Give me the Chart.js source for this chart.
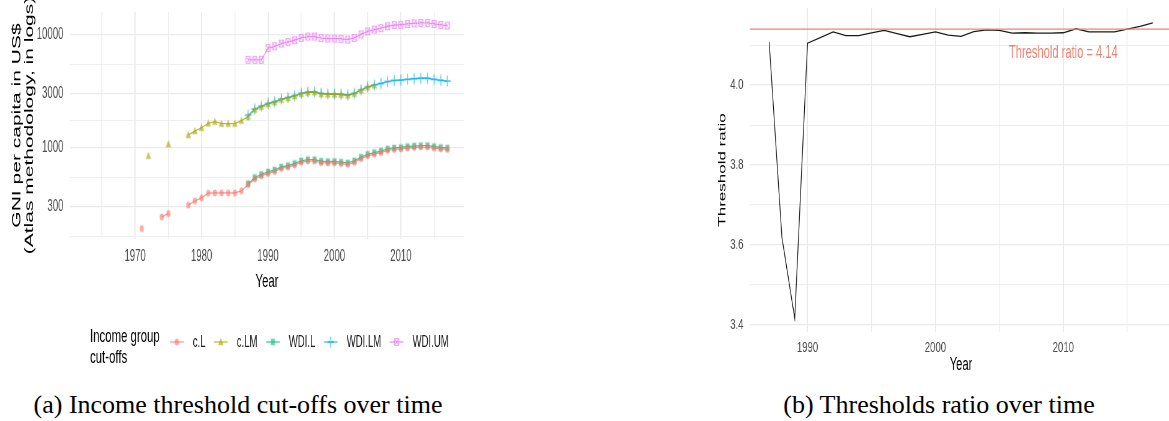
<!DOCTYPE html>
<html>
<head>
<meta charset="utf-8">
<script src="https://cdn.jsdelivr.net/npm/chart.js@4.4.1/dist/chart.umd.min.js"></script>
<style>
  html, body { margin: 0; padding: 0; background: #fff; }
  body { width: 1169px; height: 421px; overflow: hidden; position: relative; }
  .panel { position: absolute; top: 0; height: 380px; transform-origin: 0 0; }
  #panelA { left: 0; width: 800px; transform: scaleX(0.6); }
  #panelB { left: 700px; width: 762px; transform: scaleX(0.62); }
  .caption { position: absolute; top: 390px; height: 30px; line-height: 30px; text-align: center;
             font-family: "Liberation Serif", "DejaVu Serif", serif; font-size: 26px; color: #000;
             white-space: nowrap; }
  #capA { left: 0; width: 476px; }
  #capB { left: 693px; width: 492px; }
</style>
</head>
<body>
<div class="panel" id="panelA"><canvas id="thresholds"></canvas></div>
<div class="panel" id="panelB"><canvas id="ratio"></canvas></div>
<div class="caption" id="capA">(a) Income threshold cut-offs over time</div>
<div class="caption" id="capB">(b) Thresholds ratio over time</div>
<script>
// ---------- data: income-group cut-offs (GNI per capita, Atlas method, US$) ----------
const years = [1971,1972,1973,1974,1975,1976,1977,1978,1979,1980,1981,1982,1983,1984,1985,1986,
  1987,1988,1989,1990,1991,1992,1993,1994,1995,1996,1997,1998,1999,2000,2001,2002,2003,2004,
  2005,2006,2007,2008,2009,2010,2011,2012,2013,2014,2015,2016,2017];

const cL = [192,null,null,244,261,null,null,310,339,360,396,398,398,398,398,415,
  472,528,563,592,616,655,675,703,742,762,762,737,733,733,723,713,742,800,
  849,878,907,946,965,975,994,1004,1014,1014,994,975,965];

const cLM = [null,849,null,null,1078,null,null,1297,1406,1503,1644,1701,1633,1633,1633,1737,
  1884,2180,2310,2440,2530,2670,2760,2870,3000,3090,3100,3000,2970,2970,2950,2910,3010,3230,
  3440,3570,null,null,null,null,null,null,null,null,null,null,null];

const wdiL = [null,null,null,null,null,null,null,null,null,null,null,null,null,null,null,null,
  480,545,580,610,635,675,695,725,765,785,785,760,755,755,745,735,765,825,
  875,905,935,975,995,1005,1025,1035,1045,1045,1025,1005,995];

const wdiLM = [null,null,null,null,null,null,null,null,null,null,null,null,null,null,null,null,
  1940,2200,2335,2465,2555,2695,2785,2895,3035,3115,3125,3030,2995,2995,2975,2935,3035,3255,
  3465,3595,3705,3855,3945,3975,4035,4085,4125,4125,4035,3955,3895];

const wdiUM = [null,null,null,null,null,null,null,null,null,null,null,null,null,null,null,null,
  6000,6000,6000,7620,7910,8355,8625,8955,9385,9645,9655,9360,9265,9265,9205,9075,9385,10065,
  10725,11115,11455,11905,12195,12275,12475,12615,12745,12735,12475,12235,12055];

const seriesNames = ['c.L', 'c.LM', 'WDI.L', 'WDI.LM', 'WDI.UM'];
const gniTicks = [300, 1000, 3000, 10000];
const gniYearTicks = [1970, 1980, 1990, 2000, 2010];
const gniTitle = ['GNI per capita in US$', '(Atlas methodology, in logs)'];
const legendTitle = ['Income group', 'cut-offs'];

// ---------- data: ratio between thresholds ----------
const ratioYears = [1987,1988,1989,1990,1991,1992,1993,1994,1995,1996,1997,1998,1999,2000,2001,
  2002,2003,2004,2005,2006,2007,2008,2009,2010,2011,2012,2013,2014,2015,2016,2017];
const ratio = [4.108,3.618,3.416,4.105,4.119,4.133,4.124,4.124,4.131,4.137,4.129,4.121,4.127,
  4.133,4.125,4.122,4.134,4.138,4.137,4.130,4.131,4.130,4.130,4.131,4.141,4.133,4.133,4.133,
  4.140,4.147,4.156];
const threshold = 4.14;
const ratioTicks = [3.4, 3.6, 3.8, 4.0];
const ratioYearTicks = [1990, 2000, 2010];

// ---------- shared look ----------
const SANS = '"Liberation Sans", Arial, Helvetica, sans-serif';
Chart.defaults.font.family = SANS;
Chart.defaults.animation = false;
const GRID = '#ebebeb';
const TICK_COLOR = '#4d4d4d';
const palette = ['#F8766D', '#A3A500', '#00BF7D', '#00B0F6', '#E76BF3'];
const shapes = ['circle', 'triangle', 'square', 'plus', 'squareCross'];
const thresholdColor = '#F2806E';

function rgba(hex, a) {
  const n = parseInt(hex.slice(1), 16);
  return `rgba(${n >> 16},${(n >> 8) & 255},${n & 255},${a})`;
}

// small bitmap markers used as point styles (and in the legend keys)
function marker(shape, color) {
  const c = document.createElement('canvas');
  c.width = 14; c.height = 14;
  const g = c.getContext('2d');
  const m = 7;
  g.fillStyle = rgba(color, 0.6);
  g.strokeStyle = rgba(color, 0.6);
  g.beginPath();
  if (shape === 'circle') {
    g.arc(m, m, 3.6, 0, Math.PI * 2); g.fill();
  } else if (shape === 'triangle') {
    g.moveTo(m, m - 4.2); g.lineTo(m + 4.6, m + 3.2); g.lineTo(m - 4.6, m + 3.2); g.closePath(); g.fill();
  } else if (shape === 'square') {
    g.rect(m - 3.4, m - 3.3, 6.8, 6.6); g.fill();
  } else if (shape === 'plus') {
    g.lineWidth = 1.8;
    g.moveTo(m, m - 5.5); g.lineTo(m, m + 5.5); g.moveTo(m - 5.5, m); g.lineTo(m + 5.5, m); g.stroke();
  } else {
    g.lineWidth = 1.2;
    g.rect(m - 3.6, m - 3.5, 7.2, 7);
    g.moveTo(m - 3.6, m - 3.5); g.lineTo(m + 3.6, m + 3.5);
    g.moveTo(m + 3.6, m - 3.5); g.lineTo(m - 3.6, m + 3.5); g.stroke();
  }
  return c;
}

// ggplot-style minor breaks: halfway between majors, one step past each end
function minorBetween(ticks, log) {
  const f = log ? Math.log10 : (v => v);
  const inv = log ? (v => Math.pow(10, v)) : (v => v);
  const t = ticks.map(f);
  const out = [];
  out.push(inv(t[0] - (t[1] - t[0]) / 2));
  for (let i = 0; i < t.length - 1; i++) out.push(inv((t[i] + t[i + 1]) / 2));
  out.push(inv(t[t.length - 1] + (t[t.length - 1] - t[t.length - 2]) / 2));
  return out;
}
const isIn = (list, v) => list.some(t => Math.abs(t - v) < 1e-6 * Math.max(1, Math.abs(t)));

function gridFor(majors, majorW, minorW) {
  return {
    color: GRID,
    drawTicks: false,
    lineWidth: c => (c.tick && isIn(majors, c.tick.value)) ? majorW : minorW
  };
}

function ticksWithMinors(scale, majors, log) {
  const all = majors.concat(minorBetween(majors, log))
    .filter(v => v >= scale.min && v <= scale.max)
    .sort((a, b) => a - b);
  scale.ticks = all.map(v => ({ value: v }));
}

// fixed axis boxes, and no extra room reserved for overhanging end labels
const fixWidth = w => s => { s.width = w; s.paddingTop = 0; s.paddingBottom = 0; };
const fixHeight = h => s => { s.height = h; s.paddingLeft = 0; s.paddingRight = 0; };

// ---------- panel (a): cut-offs over time ----------
const seriesValues = [cL, cLM, wdiL, wdiLM, wdiUM];
const datasetsA = seriesNames.map((name, i) => ({
  label: name,
  data: seriesValues[i],
  borderColor: rgba(palette[i], 0.75),
  borderWidth: 1.3,
  pointStyle: marker(shapes[i], palette[i]),
  pointRadius: 4,
  pointHoverRadius: 4,
  spanGaps: false,
  tension: 0
}));

const yTitlePlugin = {
  id: 'gniTitle',
  afterDraw(chart) {
    const { ctx, chartArea: a } = chart;
    ctx.save();
    ctx.translate(0, (a.top + a.bottom) / 2);
    ctx.rotate(-Math.PI / 2);
    ctx.font = '21px ' + SANS;
    ctx.fillStyle = '#000';
    ctx.textAlign = 'center';
    ctx.textBaseline = 'middle';
    ctx.fillText(gniTitle[0], 0, 28);
    ctx.fillText(gniTitle[1], 0, 49);
    ctx.restore();
  }
};

const legendPlugin = {
  id: 'cutoffLegend',
  afterDraw(chart) {
    const ctx = chart.ctx;
    ctx.save();
    ctx.textBaseline = 'middle';
    ctx.textAlign = 'left';
    ctx.fillStyle = '#000';
    ctx.font = '19px ' + SANS;
    const x0 = 150;
    ctx.fillText(legendTitle[0], x0, 337);
    ctx.fillText(legendTitle[1], x0, 358);
    let x = x0 + ctx.measureText(legendTitle[0]).width + 17;
    const y = 342;
    const keyW = 23;
    ctx.font = '16px ' + SANS;
    chart.data.datasets.forEach(ds => {
      ctx.strokeStyle = ds.borderColor;
      ctx.lineWidth = 1.3;
      ctx.beginPath(); ctx.moveTo(x, y); ctx.lineTo(x + keyW, y); ctx.stroke();
      const img = ds.pointStyle;
      ctx.drawImage(img, x + keyW / 2 - img.width / 2, y - img.height / 2);
      ctx.fillStyle = '#1a1a1a';
      ctx.fillText(ds.label, x + keyW + 15, y + 1);
      x += keyW + 15 + ctx.measureText(ds.label).width + 14;
    });
    ctx.restore();
  }
};

new Chart(document.getElementById('thresholds'), {
  type: 'line',
  data: { labels: years, datasets: datasetsA },
  options: {
    responsive: true,
    maintainAspectRatio: false,
    layout: { padding: { top: 12, right: 26.7, bottom: 81, left: 0 } },
    plugins: { legend: { display: false }, tooltip: { enabled: false } },
    scales: {
      x: {
        type: 'linear',
        min: 1960.2,
        max: 2019.5,
        afterBuildTicks: s => ticksWithMinors(s, gniYearTicks, false),
        afterFit: fixHeight(60),
        grid: gridFor(gniYearTicks, 2, 1.4),
        border: { display: false },
        ticks: {
          autoSkip: false, maxRotation: 0, padding: 8,
          color: TICK_COLOR, font: { size: 16 },
          callback: v => isIn(gniYearTicks, v) ? String(v) : ''
        },
        title: { display: true, text: 'Year', color: '#000', font: { size: 19 }, padding: { top: 0, bottom: 6 } }
      },
      y: {
        type: 'logarithmic',
        min: 155.5,
        max: 15920,
        afterBuildTicks: s => ticksWithMinors(s, gniTicks, true),
        afterFit: fixWidth(116.7),
        grid: gridFor(gniTicks, 1.3, 0.8),
        border: { display: false },
        ticks: {
          autoSkip: false, padding: 11,
          color: TICK_COLOR, font: { size: 16 },
          callback: v => isIn(gniTicks, v) ? String(v) : ''
        }
      }
    }
  },
  plugins: [yTitlePlugin, legendPlugin]
});

// ---------- panel (b): thresholds ratio ----------
const thresholdPlugin = {
  id: 'thresholdLine',
  afterDatasetsDraw(chart) {
    const { ctx, chartArea: a, scales: { x, y } } = chart;
    const yy = y.getPixelForValue(threshold);
    ctx.save();
    ctx.strokeStyle = thresholdColor;
    ctx.lineWidth = 1.3;
    ctx.beginPath(); ctx.moveTo(a.left, yy); ctx.lineTo(a.right, yy); ctx.stroke();
    ctx.font = '18px ' + SANS;
    ctx.fillStyle = thresholdColor;
    ctx.textAlign = 'center';
    ctx.textBaseline = 'middle';
    ctx.fillText('Threshold ratio = ' + threshold.toFixed(2), x.getPixelForValue(2010), y.getPixelForValue(4.08));
    ctx.restore();
  }
};

new Chart(document.getElementById('ratio'), {
  type: 'line',
  data: {
    labels: ratioYears,
    datasets: [{
      label: 'Threshold ratio',
      data: ratio,
      borderColor: '#1a1a1a',
      borderWidth: 1.3,
      pointRadius: 0,
      tension: 0
    }]
  },
  options: {
    responsive: true,
    maintainAspectRatio: false,
    layout: { padding: { top: 8, right: 0.7, bottom: 2, left: 0 } },
    plugins: { legend: { display: false }, tooltip: { enabled: false } },
    scales: {
      x: {
        type: 'linear',
        min: 1985.5,
        max: 2018.5,
        afterBuildTicks: s => ticksWithMinors(s, ratioYearTicks, false),
        afterFit: fixHeight(46),
        grid: gridFor(ratioYearTicks, 2, 1.4),
        border: { display: false },
        ticks: {
          autoSkip: false, maxRotation: 0, padding: 6,
          color: TICK_COLOR, font: { size: 15.5 },
          callback: v => isIn(ratioYearTicks, v) ? String(v) : ''
        },
        title: { display: true, text: 'Year', color: '#000', font: { size: 18 }, padding: { top: 0, bottom: 2 } }
      },
      y: {
        type: 'linear',
        min: 3.382,
        max: 4.193,
        afterBuildTicks: s => ticksWithMinors(s, ratioTicks, false),
        afterFit: fixWidth(80.6),
        grid: gridFor(ratioTicks, 1.3, 0.8),
        border: { display: false },
        ticks: {
          autoSkip: false, padding: 10.4,
          color: TICK_COLOR, font: { size: 15.5 },
          callback: v => isIn(ratioTicks, v) ? v.toFixed(1) : ''
        },
        title: { display: true, text: 'Threshold ratio', color: '#000', font: { size: 17 }, padding: { top: 26, bottom: 0 } }
      }
    }
  },
  plugins: [thresholdPlugin]
});
</script>
</body>
</html>
